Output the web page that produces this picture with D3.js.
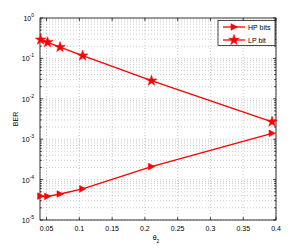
<!DOCTYPE html>
<meta charset="utf-8">
<title>BER vs theta2</title>
<style>
body { margin: 0; background: #fff; }
text { font-family: "Liberation Sans", Arial, sans-serif; }
</style>
<script src="https://d3js.org/d3.v7.min.js"></script>
<div id="chart"></div>
<script>

var width = 305,
    height = 249,
    margin = {top: 18, right: 29, bottom: 29, left: 40};

// data
var theta2 = [0.041, 0.0515, 0.0705, 0.105, 0.21, 0.394];
var hpBits = [3.9e-5, 3.85e-5, 4.4e-5, 5.9e-5, 2.1e-4, 1.4e-3];
var lpBit  = [0.29, 0.25, 0.19, 0.117, 0.028, 0.0027];
var xTicks = [0.05, 0.1, 0.15, 0.2, 0.25, 0.3, 0.35, 0.4];
var yExps  = [0, -1, -2, -3, -4, -5];
var seriesNames = ["HP bits", "LP bit"];

var w = width - margin.left - margin.right,
    h = height - margin.top - margin.bottom;

var svg = d3.select("#chart").append("svg")
    .attr("width", width)
    .attr("height", height)
  .append("g")
    .attr("transform", "translate(" + margin.left + "," + margin.top + ")");

var x = d3.scaleLinear().domain([0.04, 0.4]).range([0, w]);
var y = d3.scaleLog().domain([1e-5, 1]).range([h, 0]);

// grid
var minorY = [];
yExps.slice(0, 5).forEach(function (e) {
  for (var k = 1; k < 10; k++) minorY.push(k * Math.pow(10, e - 1));
});

svg.append("g").selectAll("line")
    .data(minorY)
  .enter().append("line")
    .attr("x1", 0).attr("x2", w)
    .attr("y1", function (d) { return y(d); })
    .attr("y2", function (d) { return y(d); })
    .attr("stroke", "#aaa")
    .attr("stroke-width", 0.6)
    .attr("stroke-dasharray", "1,2");

svg.append("g").selectAll("line")
    .data(xTicks)
  .enter().append("line")
    .attr("y1", 0).attr("y2", h)
    .attr("x1", function (d) { return x(d); })
    .attr("x2", function (d) { return x(d); })
    .attr("stroke", "#aaa")
    .attr("stroke-width", 0.6)
    .attr("stroke-dasharray", "1,2");

// ticks inward on all sides
var tk = svg.append("g").attr("stroke", "#000").attr("stroke-width", 0.7);
xTicks.forEach(function (d) {
  tk.append("line").attr("x1", x(d)).attr("x2", x(d)).attr("y1", h).attr("y2", h - 3);
  tk.append("line").attr("x1", x(d)).attr("x2", x(d)).attr("y1", 0).attr("y2", 3);
});
minorY.forEach(function (d) {
  var len = (Math.abs(Math.log10(d) - Math.round(Math.log10(d))) < 1e-9) ? 3 : 1.8;
  tk.append("line").attr("x1", 0).attr("x2", len).attr("y1", y(d)).attr("y2", y(d));
  tk.append("line").attr("x1", w).attr("x2", w - len).attr("y1", y(d)).attr("y2", y(d));
});
tk.append("line").attr("x1", 0).attr("x2", 3).attr("y1", y(1)).attr("y2", y(1));
tk.append("line").attr("x1", w).attr("x2", w - 3).attr("y1", y(1)).attr("y2", y(1));

svg.append("rect")
    .attr("width", w).attr("height", h)
    .attr("fill", "none")
    .attr("stroke", "#000")
    .attr("stroke-width", 0.8);

// tick labels
svg.append("g").selectAll("text")
    .data(xTicks)
  .enter().append("text")
    .attr("x", function (d) { return x(d); })
    .attr("y", h + 11)
    .attr("text-anchor", "middle")
    .attr("font-size", 7)
    .text(function (d) { return d; });

var yl = svg.append("g").selectAll("text")
    .data(yExps)
  .enter().append("text")
    .attr("x", -6)
    .attr("y", function (d) { return y(Math.pow(10, d)) + 3; })
    .attr("text-anchor", "end")
    .attr("font-size", 7);
yl.append("tspan").text("10");
yl.append("tspan")
    .attr("dy", -4)
    .attr("font-size", 5)
    .text(function (d) { return d; });

// axis labels
svg.append("text")
    .attr("transform", "translate(" + (-22) + "," + (h / 2) + ") rotate(-90)")
    .attr("text-anchor", "middle")
    .attr("font-size", 7)
    .text("BER");

var xl = svg.append("text")
    .attr("x", w / 2 - 2)
    .attr("y", h + 20)
    .attr("text-anchor", "middle")
    .attr("font-size", 7);
xl.append("tspan").text("θ");
xl.append("tspan").attr("dy", 3).attr("font-size", 5).text("2");

// series
var line = d3.line()
    .x(function (d) { return x(d[0]); })
    .y(function (d) { return y(d[1]); });

var tri = "M-3,-3.3L3.3,0L-3,3.3Z";
var star = d3.symbol().type(d3.symbolStar).size(34)();

var series = [
  {name: seriesNames[0], values: d3.zip(theta2, hpBits), marker: tri},
  {name: seriesNames[1], values: d3.zip(theta2, lpBit), marker: star}
];

series.forEach(function (s) {
  svg.append("path")
      .datum(s.values)
      .attr("d", line)
      .attr("fill", "none")
      .attr("stroke", "#ff0000")
      .attr("stroke-width", 1.3);
  svg.append("g").selectAll("path")
      .data(s.values)
    .enter().append("path")
      .attr("d", s.marker)
      .attr("transform", function (d) { return "translate(" + x(d[0]) + "," + y(d[1]) + ")"; })
      .attr("fill", "#ff0000")
      .attr("stroke", "#ff0000")
      .attr("stroke-width", 0.6);
});

// legend
var lg = svg.append("g").attr("transform", "translate(" + (w - 58) + ",2.5)");
lg.append("rect")
    .attr("width", 57).attr("height", 25)
    .attr("fill", "#fff")
    .attr("stroke", "#000")
    .attr("stroke-width", 0.7);
series.forEach(function (s, i) {
  var yy = 6.5 + i * 13;
  lg.append("line")
      .attr("x1", 5).attr("x2", 27)
      .attr("y1", yy).attr("y2", yy)
      .attr("stroke", "#ff0000")
      .attr("stroke-width", 1.3);
  lg.append("path")
      .attr("d", s.marker)
      .attr("transform", "translate(16," + yy + ")")
      .attr("fill", "#ff0000")
      .attr("stroke", "#ff0000")
      .attr("stroke-width", 0.6);
  lg.append("text")
      .attr("x", 30)
      .attr("y", yy + 2.5)
      .attr("font-size", 7)
      .text(s.name);
});
</script>
